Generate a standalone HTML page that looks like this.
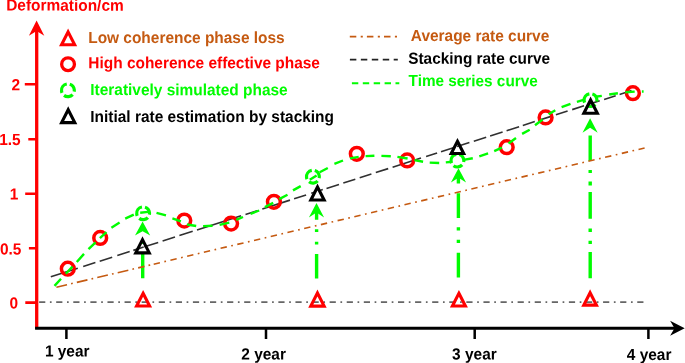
<!DOCTYPE html>
<html><head><meta charset="utf-8"><title>chart</title>
<style>
html,body{margin:0;padding:0;background:#fff;}
svg{display:block;filter:blur(0.35px)}
text{font-family:"Liberation Sans",sans-serif;font-weight:bold;font-size:15.45px}
</style></head><body>
<svg width="685" height="363" viewBox="0 0 685 363">
<rect width="685" height="363" fill="#fff"/>
<g stroke="#00fc00" stroke-width="3.4" fill="none">
<path d="M142.7,278.3V253.6M142.7,244.1V241.3"/>
<path d="M316.6,278.6V253.9M316.6,244.5V241.7M316.6,232V229.3M316.6,219.7V211"/>
<path d="M458.4,277.4V252.7M458.4,243V239.7M458.4,230.6V227.2M458.4,218V193.2M458.4,183.6V177"/>
<path d="M590.2,278.2V252M590.2,244V240.7M590.2,232V228.4M590.2,218.7V192M590.2,185.5V181.5M590.2,172.9V169.9M590.2,161V135.6"/>
</g>
<g fill="#00fc00">
<path d="M142.6,221.6 L150.2,235.6 L142.6,231.2 L135.0,235.6Z"/>
<path d="M316.5,203.0 L324.1,217.6 L316.5,212.6 L308.9,217.6Z"/>
<path d="M458.5,168.2 L466.1,182.5 L458.5,177.8 L450.9,182.5Z"/>
<path d="M590.1,118.2 L597.7,132.7 L590.1,127.8 L582.5,132.7Z"/>
</g>
<line x1="39.1" y1="302.1" x2="644" y2="302.1" stroke="#666" stroke-width="1.6" stroke-dasharray="6.2 4.6 1.7 4.59"/>
<line x1="56.4" y1="287.20" x2="144.5" y2="266.35" stroke="#c55a11" stroke-width="1.6" stroke-dasharray="10.9 4.2 1.7 4.2"/>
<line x1="148.5" y1="265.40" x2="150.2" y2="265.00" stroke="#c55a11" stroke-width="1.6"/>
<line x1="153.7" y1="264.17" x2="644.6" y2="147.97" stroke="#c55a11" stroke-width="1.6" stroke-dasharray="6.4 4.55 1.7 4.53"/>
<path d="M50.8,276.83L77.8,268.17M83.2,266.44L95.4,262.53M99.7,261.15L112.2,257.14M117.3,255.51L129.7,251.53M133.3,250.37L143.7,247.04M144.4,246.81L158.2,242.39M162.6,240.98L175.0,237.00M179.4,235.59L192.7,231.32M197.0,229.95L241.1,215.80M245.5,214.39L257.2,210.64M262.3,209.00L290.0,200.12M294.1,198.81L306.1,194.96M311.2,193.32L315.5,191.94M320.5,190.34L322.8,189.60M326.5,188.42L339.0,184.41M343.3,183.03L355.3,179.18M359.7,177.77L371.4,174.02M375.8,172.60L388.2,168.63M392.6,167.22L421.0,158.11M426.1,156.47L437.1,152.95M441.0,151.69L453.4,147.72M457.0,146.56L469.4,142.59M473.8,141.18L486.2,137.20M490.1,135.95L502.6,131.94M506.6,130.66L519.1,126.65M522.8,125.46L534.8,121.61M538.8,120.33L551.9,116.13M555.9,114.85L567.6,111.09M572.2,109.62L584.0,105.83M588.0,104.55L599.7,100.80M604.1,99.39L615.7,95.67M619.6,94.42L631.5,90.60" stroke="#303030" stroke-width="1.6" fill="none"/>
<g fill="none" stroke="#ff0000" stroke-width="3.5">
<circle cx="67.8" cy="268.7" r="6.4"/>
<circle cx="100.2" cy="237.9" r="6.4"/>
<circle cx="184.3" cy="220.6" r="6.4"/>
<circle cx="231.1" cy="223.6" r="6.4"/>
<circle cx="273.9" cy="201.8" r="6.4"/>
<circle cx="356.8" cy="153.8" r="6.4"/>
<circle cx="407.2" cy="160.4" r="6.4"/>
<circle cx="506.7" cy="147.2" r="6.4"/>
<circle cx="545.6" cy="117.4" r="6.4"/>
<circle cx="632.9" cy="93.2" r="6.4"/>
</g>
<path d="M54.5,285.9L61.0,278.7M65.8,273.8L72.5,266.6M76.8,262.0L84.0,253.9M88.5,249.2L95.6,242.3M99.9,238.1L106.5,232.2M111.4,227.8L119.6,222.5M125.2,218.6L133.8,214.6M140.2,212.7L148.0,211.9M156.5,212.9L166.0,215.4M172.4,218.4L180.9,221.3M187.0,224.5L196.2,226.0M203.1,226.1L212.6,225.7M219.6,224.9L229.3,222.7M236.2,219.9L243.0,217.0M250.5,213.9L259.2,210.5M264.9,207.1L273.2,202.9M279.2,199.1L287.5,194.7M293.0,190.4L300.7,186.1M309.8,179.8L316.6,175.4M319.7,172.3L327.8,168.0M334.4,163.9L343.0,160.5M349.9,158.4L358.7,156.9M365.6,156.1L374.4,155.8M381.4,155.9L390.8,156.2M397.4,156.9L407.6,158.5M414.4,160.1L423.1,161.8M429.7,162.6L439.2,163.0M445.8,162.4L452.3,161.8M463.3,159.9L472.8,158.2M479.3,156.3L488.1,153.4M494.2,151.2L501.9,147.7M508.5,143.5L516.0,138.0M522.1,133.9L529.7,129.7M535.0,125.2L542.6,119.5M548.6,114.2L555.3,110.2M561.6,107.2L570.5,103.9M576.9,101.8L584.3,99.6M595.3,96.8L601.8,95.9M609.2,94.5L617.9,93.2M625.2,92.2L634.7,91.6M641.9,91.5L643.6,91.5" fill="none" stroke="#00fc00" stroke-width="2.4"/>
<g fill="none" stroke="#00fc00" stroke-width="3.2" stroke-dasharray="9.3 3.1">
<circle cx="143.1" cy="213.3" r="6.4" transform="rotate(174 143.1 213.3)"/>
<circle cx="312.9" cy="176.7" r="6.4" transform="rotate(174 312.9 176.7)"/>
<circle cx="457.4" cy="160.6" r="6.4" transform="rotate(174 457.4 160.6)"/>
<circle cx="590.5" cy="100.1" r="6.4" transform="rotate(174 590.5 100.1)"/>
</g>
<g fill="none" stroke-width="3.1" stroke-linejoin="miter" stroke-miterlimit="10">
<path d="M142.50,239.61 L149.25,252.85 L135.75,252.85Z" stroke="#000"/>
<path d="M317.50,187.01 L324.15,200.05 L310.85,200.05Z" stroke="#000"/>
<path d="M457.45,141.31 L463.69,153.55 L451.21,153.55Z" stroke="#000"/>
<path d="M590.60,100.01 L597.35,113.25 L583.85,113.25Z" stroke="#000"/>
<path d="M143.10,293.31 L149.60,306.05 L136.60,306.05Z" stroke="#ff0000"/>
<path d="M317.45,293.01 L324.15,306.15 L310.75,306.15Z" stroke="#ff0000"/>
<path d="M458.90,293.31 L465.40,306.05 L452.40,306.05Z" stroke="#ff0000"/>
<path d="M590.10,292.71 L596.44,305.15 L583.76,305.15Z" stroke="#ff0000"/>
</g>
<g stroke="#ff0000" fill="none">
<path d="M36.7,329V30" stroke-width="3.3"/>
<path d="M25.3,302.6H36M28.9,248.2H36M25.2,193.7H36M28.3,139.3H36M24.8,84.3H36" stroke-width="2.6"/>
</g>
<path d="M36.6,20.5 L44.3,35.7 L36.6,31 L28.9,35.7Z" fill="#ff0000"/>
<g stroke="#000" fill="none">
<path d="M35.1,328.25H676" stroke-width="3.2"/>
<path d="M66.4,328V339M266,328V339M474.7,328V339M648.4,328V339" stroke-width="2.5"/>
</g>
<path d="M684.7,328.25 L670.1,320.7 L674.5,328.25 L670.1,335.8Z" fill="#000"/>
<g fill="#ff0000" text-anchor="end">
<text transform="translate(18.00,308.5) rotate(0.03) scale(1,1.04)">0</text>
<text transform="translate(21.45,254.4) rotate(0.03) scale(1,1.04)">0.5</text>
<text transform="translate(18.30,199.6) rotate(0.03) scale(1,1.04)">1</text>
<text transform="translate(20.60,145.1) rotate(0.03) scale(1,1.04)">1.5</text>
<text transform="translate(20.20,90.2) rotate(0.03) scale(1,1.04)">2</text>
</g>
<text transform="translate(6.2,10.6) rotate(0.03) scale(1,1.04)" fill="#ff0000">Deformation/cm</text>
<g fill="#000" text-anchor="middle" style="font-size:15.2px">
<text transform="translate(67.2,356.6) rotate(0.03) scale(1,1.04)">1 year</text>
<text transform="translate(263.6,359.6) rotate(0.03) scale(1,1.04)">2 year</text>
<text transform="translate(474.4,359.5) rotate(0.03) scale(1,1.04)">3 year</text>
<text transform="translate(649.1,360) rotate(0.03) scale(1,1.04)">4 year</text>
</g>
<g fill="none" stroke-width="3.1" stroke-linejoin="miter" stroke-miterlimit="10">
<path d="M68.10,31.91 L74.65,44.75 L61.55,44.75Z" stroke="#ff0000"/>
<circle cx="68.05" cy="64.2" r="6.4" stroke="#ff0000" stroke-width="3.3"/>
<g stroke="#00fc00" stroke-width="3.2" stroke-dasharray="9.3 3.1"><circle cx="67.9" cy="90.3" r="6.4" transform="rotate(174 67.9 90.3)"/></g>
<path d="M68.20,109.71 L74.80,122.65 L61.60,122.65Z" stroke="#000"/>
</g>
<text transform="translate(88.2,43) rotate(0.03) scale(1,1.04)" fill="#c55a11">Low coherence phase loss</text>
<text transform="translate(88.3,68.2) rotate(0.03) scale(1,1.04)" fill="#ff0000">High coherence effective phase</text>
<text transform="translate(90.3,95.1) rotate(0.03) scale(1,1.04)" fill="#00fc00">Iteratively simulated phase</text>
<text transform="translate(90.3,122) rotate(0.03) scale(1,1.04)" fill="#000">Initial rate estimation by stacking</text>
<line x1="349.8" y1="36.7" x2="397.3" y2="36.7" stroke="#c55a11" stroke-width="1.8" stroke-dasharray="6.5 4.4 2.1 4.1"/>
<line x1="349.9" y1="59.6" x2="397.8" y2="59.6" stroke="#222" stroke-width="1.8" stroke-dasharray="6.45 4.5"/>
<line x1="351.9" y1="83.3" x2="399.3" y2="83.3" stroke="#00fc00" stroke-width="1.9" stroke-dasharray="6.4 4.5"/>
<text transform="translate(410.8,41.1) rotate(0.03) scale(1,1.04)" fill="#c55a11">Average rate curve</text>
<text transform="translate(408.2,63.8) rotate(0.03) scale(1,1.04)" fill="#000" style="font-size:15.38px">Stacking rate curve</text>
<text transform="translate(408.6,86.1) rotate(0.03) scale(1,1.04)" fill="#00fc00" style="font-size:15.33px">Time series curve</text>
</svg>
</body></html>
